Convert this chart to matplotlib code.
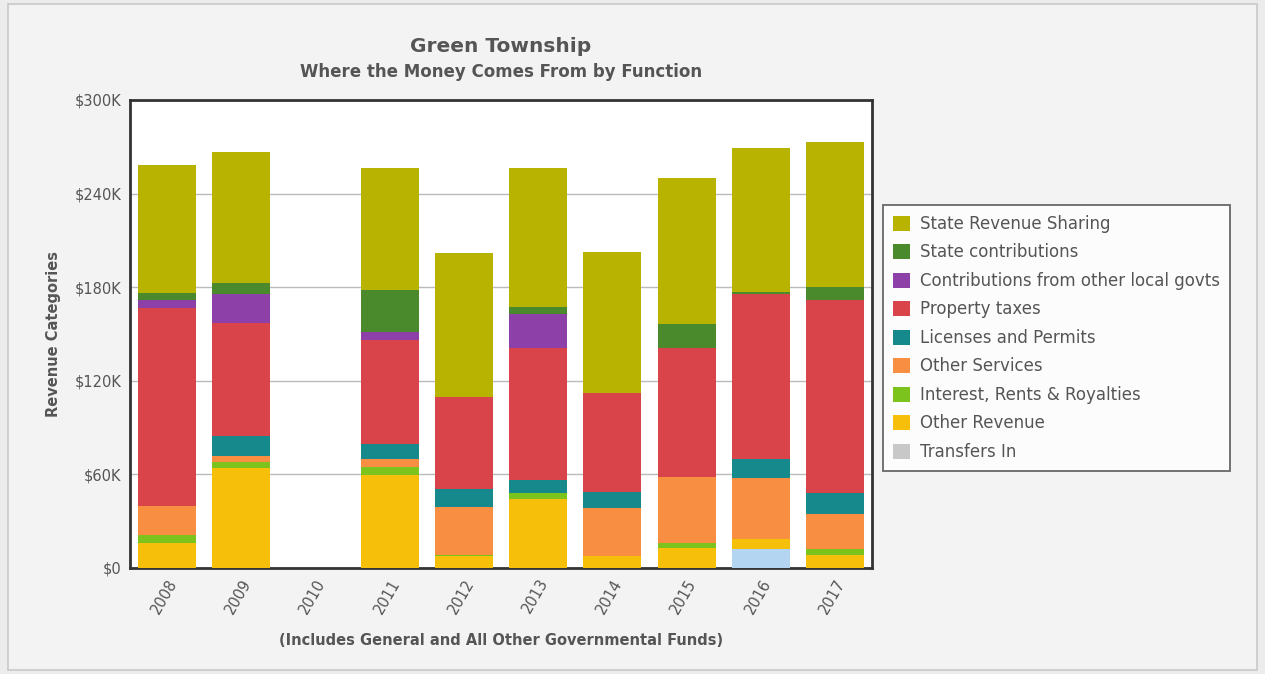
import numpy as np
import matplotlib
matplotlib.use("Agg")
import matplotlib.pyplot as plt
from matplotlib.patches import Rectangle
from matplotlib.ticker import FuncFormatter

years = ["2008", "2009", "2010", "2011", "2012", "2013", "2014", "2015", "2016", "2017"]

# values in $K, stacked bottom -> top
transfers_in = [0, 0, 0, 0, 0, 0, 0, 0, 12.0, 0]
other_revenue = [15.8, 63.9, 0, 59.6, 7.5, 44.2, 7.4, 12.6, 6.4, 8.3]
interest = [5.3, 4.2, 0, 5.3, 0.8, 3.7, 0.5, 3.6, 0, 3.7]
other_services = [18.6, 3.7, 0, 4.7, 30.6, 0, 30.4, 41.9, 39.1, 22.4]
licenses = [0, 13.0, 0, 9.8, 11.5, 8.5, 10.6, 0, 12.2, 13.8]
property_taxes = [126.7, 72.0, 0, 66.7, 59.4, 84.4, 63.1, 82.7, 106.0, 123.5]
local_govts = [5.3, 18.6, 0, 5.3, 0, 21.8, 0, 0, 0, 0]
state_contrib = [4.3, 7.1, 0, 26.7, 0, 4.9, 0, 15.6, 1.5, 8.5]
state_rev_sharing = [82.2, 84.4, 0, 78.0, 91.9, 88.7, 90.8, 93.4, 91.9, 92.9]

series = [
    ("Transfers In", transfers_in, "#b3d5f2"),
    ("Other Revenue", other_revenue, "#f5bf0a"),
    ("Interest, Rents & Royalties", interest, "#7dc31e"),
    ("Other Services", other_services, "#f78e42"),
    ("Licenses and Permits", licenses, "#15898c"),
    ("Property taxes", property_taxes, "#d9444b"),
    ("Contributions from other local govts", local_govts, "#8d40a8"),
    ("State contributions", state_contrib, "#4b8a2c"),
    ("State Revenue Sharing", state_rev_sharing, "#b8b200"),
]
legend_icon = {"Transfers In": "#c8c8c8"}

fig = plt.figure(figsize=(12.65, 6.74), dpi=100)
fig.patch.set_facecolor("#ececec")
fig.patches.append(Rectangle((0.006, 0.006), 0.988, 0.988, transform=fig.transFigure,
                             facecolor="#f3f3f3", edgecolor="#c8c8c8", lw=1.2, zorder=-1))

ax = fig.add_axes([0.1028, 0.1573, 0.5866, 0.6944])
ax.set_facecolor("white")
x = np.arange(len(years))
bottom = np.zeros(len(years))
handles = []
for name, vals, col in series:
    v = np.array(vals)
    ax.bar(x, v, 0.78, bottom=bottom, color=col, zorder=3)
    bottom += v
    handles.append(Rectangle((0, 0), 1, 1, facecolor=legend_icon.get(name, col)))

ax.set_xlim(-0.5, 9.5)
ax.set_ylim(0, 300)
ax.set_yticks([0, 60, 120, 180, 240, 300])
ax.yaxis.set_major_formatter(FuncFormatter(lambda v, p: "$0" if v == 0 else "$%dK" % v))
ax.set_xticks(x)
ax.set_xticklabels(years, rotation=60, ha="right", rotation_mode="anchor")
ax.tick_params(length=0, labelsize=10.5, colors="#555555", pad=6)
ax.grid(axis="y", color="#bbbbbb", lw=1, zorder=0)
for s in ax.spines.values():
    s.set_color("#333333")
    s.set_linewidth(2)

ax.set_ylabel("Revenue Categories", fontsize=10.5, fontweight="bold", color="#555555", labelpad=10)
ax.set_xlabel("(Includes General and All Other Governmental Funds)", fontsize=10.5,
              fontweight="bold", color="#555555", labelpad=12)
fig.text(0.396, 0.931, "Green Township", ha="center", va="center", fontsize=14.5,
         fontweight="bold", color="#555555")
fig.text(0.396, 0.893, "Where the Money Comes From by Function", ha="center", va="center",
         fontsize=12, fontweight="bold", color="#555555")

leg = fig.legend(handles[::-1], [s[0] for s in series][::-1], loc="upper left",
                 bbox_to_anchor=(0.698, 0.696), borderaxespad=0, fontsize=12, frameon=True,
                 handlelength=1.0, handleheight=1.0, labelspacing=0.63, borderpad=0.6,
                 handletextpad=0.6, fancybox=False, shadow=False)
leg.get_frame().set_edgecolor("#444444")
leg.get_frame().set_linewidth(1.3)
for t in leg.get_texts():
    t.set_color("#555555")

fig.savefig("out.png", dpi=100, facecolor=fig.get_facecolor())
